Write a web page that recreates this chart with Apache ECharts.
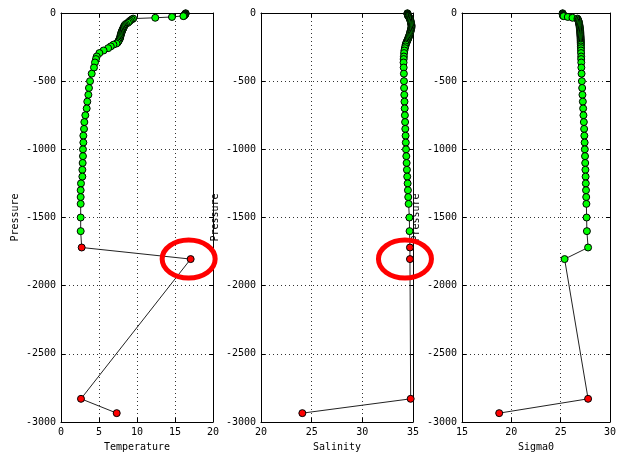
<!DOCTYPE html>
<html>
<head>
<meta charset="utf-8">
<script src="https://cdn.jsdelivr.net/npm/echarts@6/dist/echarts.min.js"></script>
<style>
html,body{margin:0;padding:0;background:#fff;}
#c{width:619px;height:459px;}
</style>
</head>
<body>
<div id="c"></div>
<script>
// ---- data ----
const pressure = [-2,-5,-8,-11,-14,-17,-20,-23,
  -29,-35,-41,
  -48,-56,-64,-72,-80,-88,-96,-104,-112,-120,-128,-136,-144,-152,-160,-168,-176,-184,-192,-200,-208,-216,-224,
  -232,-245,-258,-275,-294,-319,-338,-363,-400,-445,
  -500,-550,-600,-650,-700,-750,-800,-850,-900,-950,-1000,-1050,-1100,-1150,-1200,-1250,-1300,-1350,-1400,
  -1500,-1600,-1720,-1805,-2830,-2935];

const temperature = [16.4,16.4,16.35,16.3,16.3,16.25,16.2,16.1,
  14.6,12.4,9.5,
  9.3,9.1,8.95,8.8,8.55,8.4,8.32,8.25,8.2,8.12,8.06,8.0,7.96,7.9,7.86,7.83,7.8,7.77,7.7,7.62,7.55,7.46,7.3,
  6.9,6.55,6.2,5.6,5.05,4.7,4.6,4.47,4.34,4.04,
  3.82,3.68,3.6,3.46,3.38,3.2,3.07,3.03,2.94,2.94,2.89,2.89,2.85,2.81,2.81,2.63,2.59,2.59,2.59,
  2.59,2.59,2.72,17.06,2.63,7.33];

const salinity = [34.45,34.45,34.47,34.48,34.5,34.5,34.52,34.55,
  34.6,34.65,34.7,
  34.72,34.75,34.78,34.8,34.82,34.85,34.86,34.85,34.83,34.8,34.78,34.75,34.72,34.7,34.66,34.62,34.58,34.54,34.5,34.45,34.4,34.36,34.32,
  34.28,34.24,34.2,34.15,34.12,34.1,34.08,34.07,34.08,34.1,
  34.11,34.12,34.14,34.16,34.18,34.2,34.22,34.24,34.27,34.29,34.31,34.34,34.37,34.4,34.43,34.47,34.5,34.53,34.57,
  34.64,34.66,34.7,34.7,34.77,24.08];

const sigma0 = [25.2,25.2,25.22,25.22,25.23,25.24,25.25,25.3,
  25.72,26.2,26.7,
  26.75,26.8,26.83,26.86,26.88,26.9,26.92,26.93,26.95,26.96,26.97,26.98,26.99,27.0,27.0,27.01,27.02,27.02,27.03,27.03,27.04,27.04,27.05,
  27.05,27.05,27.06,27.06,27.07,27.08,27.08,27.09,27.1,27.12,
  27.15,27.18,27.21,27.25,27.28,27.31,27.35,27.38,27.4,27.43,27.45,27.47,27.49,27.51,27.53,27.55,27.57,27.59,27.61,
  27.63,27.66,27.78,25.4,27.78,18.77];

// quality flag per point (1 = bad / red)
const tempFlag  = pressure.map((p,i)=> i >= pressure.length-4 ? 1 : 0);
const salFlag   = pressure.map((p,i)=> i >= pressure.length-4 ? 1 : 0);
const sigmaFlag = pressure.map((p,i)=> i >= pressure.length-2 ? 1 : 0);

const xNames = ['Temperature','Salinity','Sigma0'];
const xRanges = [[0,20,5],[20,35,5],[15,30,5]];
const yRange = [-3000,0,500];

// ---- chart ----
const FONT = 'DejaVu Sans Mono';
const GREEN = '#00ff00', RED = '#ff0000';
const grids = [
  {left:61, top:13, width:152, height:409},
  {left:261, top:13, width:152, height:409},
  {left:462, top:13, width:151, height:409}
];

function build(xs, flags){
  return pressure.map((p,i)=>({
    value:[xs[i], p],
    itemStyle:{color: flags[i] ? RED : GREEN, borderColor:'#000', borderWidth:1}
  }));
}

const xAxis = [], yAxis = [];
const splitStyle = {show:true, lineStyle:{color:'#333', type:[1,3], width:1}};
const fmt = v => String(v);
grids.forEach((g,i)=>{
  xAxis.push({
    type:'value', gridIndex:i, min:xRanges[i][0], max:xRanges[i][1], interval:xRanges[i][2],
    position:'bottom', name:xNames[i], nameLocation:'middle', nameGap:20,
    nameTextStyle:{fontFamily:FONT, fontSize:10, color:'#000'},
    axisLine:{show:true, onZero:false, lineStyle:{color:'#000', width:1}},
    axisTick:{show:true, inside:true, length:4, lineStyle:{color:'#000'}},
    axisLabel:{fontFamily:FONT, fontSize:10, color:'#000', margin:5, formatter:fmt},
    splitLine:splitStyle
  });
  xAxis.push({
    type:'value', gridIndex:i, min:xRanges[i][0], max:xRanges[i][1], interval:xRanges[i][2],
    position:'top',
    axisLine:{show:true, onZero:false, lineStyle:{color:'#000', width:1}},
    axisTick:{show:true, inside:true, length:4, lineStyle:{color:'#000'}},
    axisLabel:{show:false}, splitLine:{show:false}
  });
  yAxis.push({
    type:'value', gridIndex:i, min:yRange[0], max:yRange[1], interval:yRange[2],
    position:'left', name:'Pressure', nameLocation:'middle', nameGap:41, nameRotate:90,
    nameTextStyle:{fontFamily:FONT, fontSize:10, color:'#000'},
    axisLine:{show:true, onZero:false, lineStyle:{color:'#000', width:1}},
    axisTick:{show:true, inside:true, length:4, lineStyle:{color:'#000'}},
    axisLabel:{fontFamily:FONT, fontSize:10, color:'#000', margin:5, formatter:fmt},
    splitLine:splitStyle
  });
  yAxis.push({
    type:'value', gridIndex:i, min:yRange[0], max:yRange[1], interval:yRange[2],
    position:'right',
    axisLine:{show:true, onZero:false, lineStyle:{color:'#000', width:1}},
    axisTick:{show:true, inside:true, length:4, lineStyle:{color:'#000'}},
    axisLabel:{show:false}, splitLine:{show:false}
  });
});

const seriesData = [build(temperature,tempFlag), build(salinity,salFlag), build(sigma0,sigmaFlag)];
const series = seriesData.map((d,i)=>({
  type:'line', xAxisIndex:i*2, yAxisIndex:i*2, data:d,
  symbol:'circle', symbolSize:7, showAllSymbol:true, animation:false,
  lineStyle:{color:'#222', width:1},
  emphasis:{disabled:true}
}));

const chart = echarts.init(document.getElementById('c'), null, {renderer:'canvas'});
chart.setOption({
  animation:false,
  backgroundColor:'#fff',
  grid:grids,
  xAxis:xAxis,
  yAxis:yAxis,
  series:series
});

// annotation rings around the suspicious -1805 dbar point
const idx = pressure.indexOf(-1805);
const c1 = chart.convertToPixel({xAxisIndex:0, yAxisIndex:0}, [temperature[idx], pressure[idx]]);
const c2 = chart.convertToPixel({xAxisIndex:2, yAxisIndex:2}, [salinity[idx], pressure[idx]]);
chart.setOption({
  graphic:[
    {type:'ellipse', shape:{cx:c1[0]-2, cy:c1[1], rx:26.5, ry:19}, style:{fill:'none', stroke:RED, lineWidth:5}, z:100},
    {type:'ellipse', shape:{cx:c2[0]-5, cy:c2[1], rx:26.5, ry:19}, style:{fill:'none', stroke:RED, lineWidth:5}, z:100}
  ]
});
</script>
</body>
</html>
